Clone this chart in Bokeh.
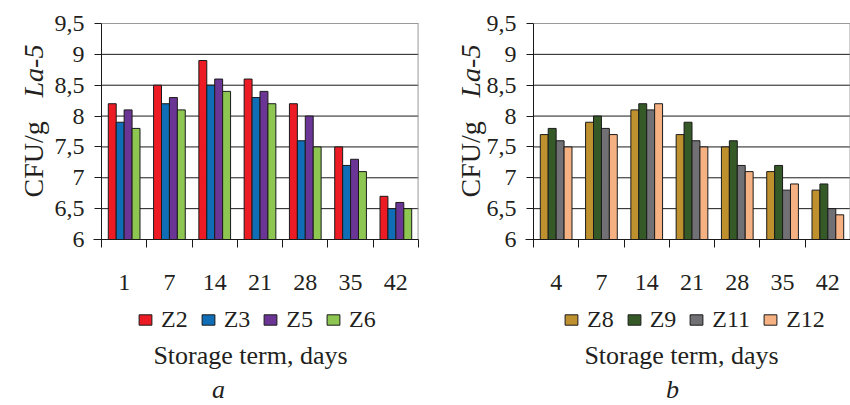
import math
from bokeh.plotting import figure
from bokeh.layouts import row
from bokeh.models import (Range1d, FixedTicker, CustomJSTickFormatter, Legend,
                          LegendItem, Label)
from bokeh.embed import file_html
from bokeh.resources import INLINE

# ---- data ----
days_a = ["1", "7", "14", "21", "28", "35", "42"]
days_b = ["4", "7", "14", "21", "28", "35", "42"]
series_a = ["Z2", "Z3", "Z5", "Z6"]
series_b = ["Z8", "Z9", "Z11", "Z12"]
z2 = [8.2, 8.5, 8.9, 8.6, 8.2, 7.5, 6.7]
z3 = [7.9, 8.2, 8.5, 8.3, 7.6, 7.2, 6.5]
z5 = [8.1, 8.3, 8.6, 8.4, 8.0, 7.3, 6.6]
z6 = [7.8, 8.1, 8.4, 8.2, 7.5, 7.1, 6.5]
z8 = [7.7, 7.9, 8.1, 7.7, 7.5, 7.1, 6.8]
z9 = [7.8, 8.0, 8.2, 7.9, 7.6, 7.2, 6.9]
z11 = [7.6, 7.8, 8.1, 7.6, 7.2, 6.8, 6.5]
z12 = [7.5, 7.7, 8.2, 7.5, 7.1, 6.9, 6.4]
y_ticks = [6, 6.5, 7, 7.5, 8, 8.5, 9, 9.5]
y_min, y_max = 6, 9.5
y_label_main = "CFU/g"
y_label_strain = "La-5"
x_title = "Storage term, days"

colors_a = ["#ED1C24", "#0F6EB6", "#6B3595", "#8DC651"]
colors_b = ["#BF912E", "#355A27", "#707075", "#F6B183"]

FONT = "Liberation Serif"
TXT = "#231F20"
H = 405
TOP = 23                  # top of plot area
PLOT_H = 216
PX_X = 317 / 7.0          # pixels per category
PX_Y = PLOT_H / 3.5       # pixels per CFU unit


def make_panel(days, names, values, colors, letter, width, plot_left, label_x,
               legend_x, title_x, letter_x):
    n = len(days)
    plot_right = plot_left + 317
    x0 = -plot_left / PX_X
    x1 = n + (width - plot_right) / PX_X
    y1 = y_max + TOP / PX_Y
    y0 = y_min - (H - TOP - PLOT_H) / PX_Y
    p = figure(width=width, height=H, x_range=Range1d(x0, x1), y_range=Range1d(y0, y1),
               output_backend="svg", toolbar_location=None,
               min_border=0, min_border_left=0, min_border_right=0,
               min_border_top=0, min_border_bottom=0)
    p.background_fill_color = "white"
    p.border_fill_color = "white"
    p.outline_line_color = None
    p.xgrid.visible = False
    p.ygrid.visible = False

    # horizontal grid lines and grey frame lines, bounded to the plot area
    gticks = [t for t in y_ticks if y_min < t < y_max]
    p.segment(x0=[0] * len(gticks), x1=[n] * len(gticks), y0=gticks, y1=gticks,
              line_color="#1A1A1A", line_width=1)
    p.segment(x0=[0, n - 0.01], x1=[n, n - 0.01], y0=[y_max, y_min], y1=[y_max, y_max],
              line_color="#9A9A9A", line_width=1)

    bw = 0.175
    offs = [-1.5 * bw, -0.5 * bw, 0.5 * bw, 1.5 * bw]
    items = []
    for j, (nm, vals, c) in enumerate(zip(names, values, colors)):
        xs = [i + 0.5 + offs[j] for i in range(n)]
        r = p.vbar(x=xs, top=vals, bottom=y_min, width=bw, fill_color=c,
                   line_color="#1A1A1A", line_width=1)
        items.append(LegendItem(label=nm, renderers=[r]))

    yax = p.yaxis[0]
    yax.fixed_location = 0
    yax.bounds = (y_min, y_max)
    yax.ticker = FixedTicker(ticks=y_ticks)
    yax.formatter = CustomJSTickFormatter(code="return tick.toString().replace('.', ',');")
    yax.major_tick_out = 7
    yax.major_tick_in = 0
    yax.minor_tick_out = 0
    yax.minor_tick_in = 0
    yax.major_label_standoff = 10
    yax.major_label_text_font = FONT
    yax.major_label_text_font_size = "24px"
    yax.major_label_text_color = TXT
    yax.axis_line_color = "#1A1A1A"
    yax.major_tick_line_color = "#1A1A1A"

    xax = p.xaxis[0]
    xax.fixed_location = y_min
    xax.bounds = (-8 / PX_X, n)
    xax.ticker = FixedTicker(ticks=[i + 0.5 for i in range(n)],
                             minor_ticks=[i for i in range(n + 1)])
    xax.formatter = CustomJSTickFormatter(args=dict(labels=days),
                                          code="return labels[Math.floor(tick)];")
    xax.major_tick_out = 0
    xax.major_tick_in = 0
    xax.minor_tick_out = 8
    xax.minor_tick_in = 0
    xax.minor_tick_line_color = "#1A1A1A"
    xax.major_label_standoff = 27
    xax.major_label_text_font = FONT
    xax.major_label_text_font_size = "24px"
    xax.major_label_text_color = TXT
    xax.axis_line_color = "#1A1A1A"

    legend = Legend(items=items, orientation="horizontal", location=(legend_x, 70),
                    border_line_alpha=0, background_fill_alpha=0,
                    label_text_font=FONT, label_text_font_size="24px",
                    label_text_color=TXT, glyph_width=16, glyph_height=13,
                    spacing=12, label_standoff=8, padding=2, margin=0)
    p.add_layout(legend)

    p.add_layout(Label(x=title_x, y=H - 355, x_units="screen", y_units="screen",
                       text=x_title, text_align="center", text_baseline="middle",
                       text_font=FONT, text_font_size="26px", text_color=TXT))
    p.add_layout(Label(x=letter_x, y=H - 389, x_units="screen", y_units="screen",
                       text=letter, text_align="center", text_baseline="middle",
                       text_font=FONT, text_font_size="26px", text_font_style="italic",
                       text_color=TXT))

    p.add_layout(Label(x=label_x, y=H - 197, x_units="screen", y_units="screen",
                       text=y_label_main, angle=math.pi / 2, text_align="left",
                       text_baseline="alphabetic", text_font=FONT,
                       text_font_size="28px", text_color=TXT))
    p.add_layout(Label(x=label_x, y=H - 97, x_units="screen", y_units="screen",
                       text=y_label_strain, angle=math.pi / 2, text_align="left",
                       text_baseline="alphabetic", text_font=FONT,
                       text_font_size="28px", text_font_style="italic", text_color=TXT))
    return p


pa = make_panel(days_a, series_a, [z2, z3, z5, z6], colors_a, "a",
                width=428, plot_left=101, label_x=33, legend_x=135, title_x=250, letter_x=218)
pb = make_panel(days_b, series_b, [z8, z9, z11, z12], colors_b, "b",
                width=422, plot_left=105, label_x=42, legend_x=133, title_x=253, letter_x=244)

layout = row(pa, pb, spacing=0)
open("out.html", "w").write(file_html(layout, INLINE))
